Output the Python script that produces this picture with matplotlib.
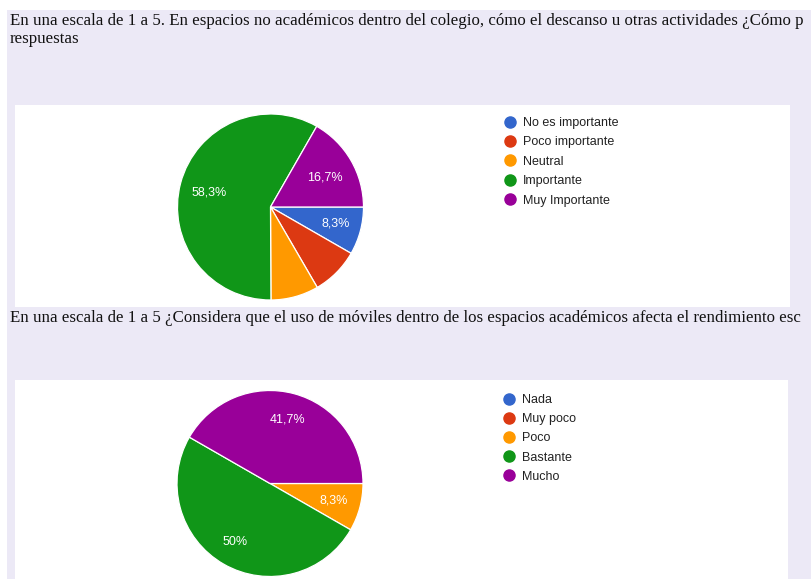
import matplotlib
matplotlib.use("Agg")
import matplotlib.pyplot as plt
from matplotlib.patches import Rectangle
from matplotlib.lines import Line2D

# ---------------- data ----------------
title1_line1 = "En una escala de 1 a 5. En espacios no académicos dentro del colegio, cómo el descanso u otras actividades ¿Cómo p"
title1_line2 = "respuestas"
title2 = "En una escala de 1 a 5 ¿Considera que el uso de móviles dentro de los espacios académicos afecta el rendimiento esc"

cats1 = ["No es importante", "Poco importante", "Neutral", "Importante", "Muy Importante"]
vals1 = [8.3, 8.3, 8.3, 58.3, 16.7]
shown1 = ["8,3%", None, None, "58,3%", "16,7%"]

cats2 = ["Nada", "Muy poco", "Poco", "Bastante", "Mucho"]
vals2 = [0, 0, 8.3, 50, 41.7]
shown2 = [None, None, "8,3%", "50%", "41,7%"]

colors = ["#3366cc", "#dc3912", "#ff9900", "#109618", "#990099"]

# label offsets (in radius units) as placed in the reference
lab_pos1 = [(0.70, -0.18), None, None, (-0.66, 0.16), (0.59, 0.32)]
lab_pos2 = [None, None, (0.69, -0.18), (-0.38, -0.63), (0.19, 0.69)]

W, H = 812, 579
BG = "#ece9f6"

fig = plt.figure(figsize=(W / 100, H / 100), dpi=100)
fig.patch.set_facecolor("white")


def px_rect(x0, y0, x1, y1, color):
    fig.patches.append(Rectangle((x0 / W, 1 - y1 / H), (x1 - x0) / W, (y1 - y0) / H,
                                 transform=fig.transFigure, facecolor=color,
                                 edgecolor="none", zorder=-5))


# background lavender area and white panels
px_rect(7, 10, W, H, BG)
px_rect(15, 105, 790, 307, "white")
px_rect(15, 380, 788, H, "white")

serif = ["Liberation Serif", "DejaVu Serif"]
sans = ["Liberation Sans", "DejaVu Sans"]

fs_title = 12.2
fig.text(10 / W, 1 - 21 / H, title1_line1, family=serif, fontsize=fs_title,
         color="#111111", va="center", ha="left")
fig.text(10 / W, 1 - 39 / H, title1_line2, family=serif, fontsize=fs_title,
         color="#111111", va="center", ha="left")
fig.text(10 / W, 1 - 318 / H, title2, family=serif, fontsize=fs_title,
         color="#111111", va="center", ha="left")


def draw_pie(cx, cy, r, vals, labels_txt, lab_pos, cats, leg_x, leg_y0, leg_dy):
    ax = fig.add_axes([(cx - r) / W, 1 - (cy + r) / H, 2 * r / W, 2 * r / H])
    ax.set_axis_off()
    data = [(v, c) for v, c in zip(vals, colors) if v > 0]
    ax.pie([d[0] for d in data], colors=[d[1] for d in data], startangle=0,
           counterclock=False, radius=1,
           wedgeprops=dict(edgecolor="white", linewidth=0.9))
    ax.set_xlim(-1, 1)
    ax.set_ylim(-1, 1)
    for t, p in zip(labels_txt, lab_pos):
        if t is not None:
            ax.text(p[0], p[1], t, color="white", fontsize=9, family=sans,
                    ha="center", va="center")
    # legend
    for i, (c, col) in enumerate(zip(cats, colors)):
        y = leg_y0 + i * leg_dy
        fig.lines.append(Line2D([leg_x / W], [1 - y / H], marker="o", markersize=8,
                                color=col, markeredgecolor=col,
                                transform=fig.transFigure, linestyle="none"))
        fig.text((leg_x + 13) / W, 1 - y / H, c, family=sans, fontsize=9,
                 color="#222222", va="center_baseline", ha="left")


draw_pie(270.5, 207, 93, vals1, shown1, lab_pos1, cats1, 510, 121.5, 19.4)
draw_pie(270, 483.5, 93, vals2, shown2, lab_pos2, cats2, 509, 398.5, 19.2)

fig.savefig("out.png", dpi=100, facecolor="white")
